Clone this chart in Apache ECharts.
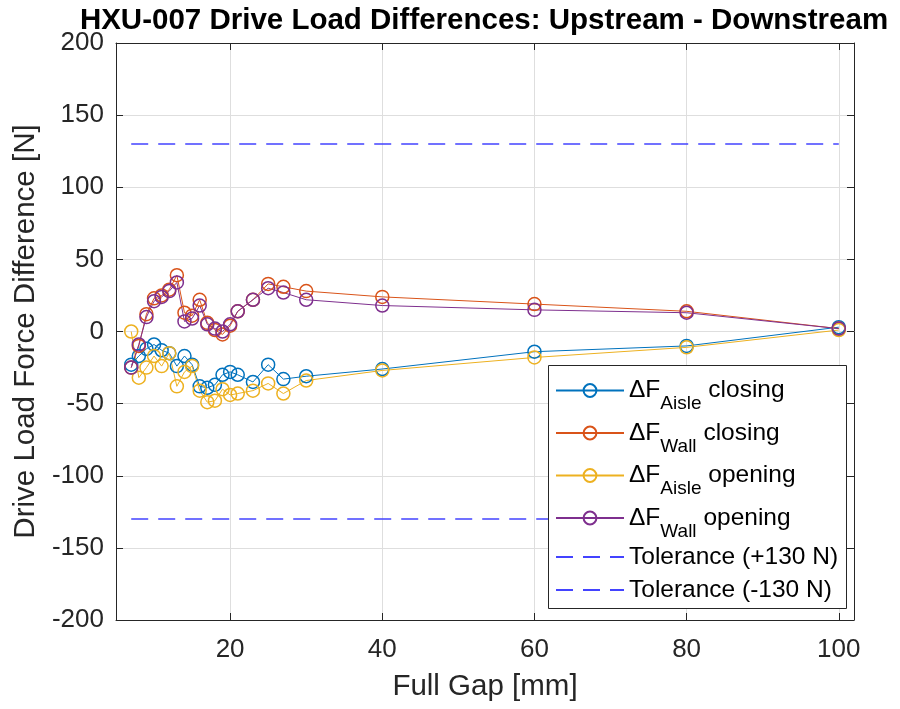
<!DOCTYPE html>
<html>
<head>
<meta charset="utf-8">
<script src="https://cdn.jsdelivr.net/npm/echarts@6/dist/echarts.min.js"></script>
<style>html,body{margin:0;padding:0;background:#fff}#c{width:900px;height:709px}</style>
</head>
<body>
<div id="c"></div>
<script>
const gap = [7, 8, 9, 10, 11, 12, 13, 14, 15, 16, 17, 18, 19, 20, 21, 23, 25, 27, 30, 40, 60, 80, 100];
const aisleClosing = [-23, -17, -12, -9, -13, -15, -24, -17, -23, -38, -39, -37, -30, -28, -30, -35, -23, -33, -31, -26, -14, -10, 3];
const wallClosing = [-25, -10, 12, 23, 25, 29, 39, 13, 11, 22, 6, 1, -2, 4, 14, 22, 33, 31, 28, 24, 19, 14, 2];
const aisleOpening = [0, -32, -25, -17, -24, -15, -38, -28, -24, -41, -49, -48, -40, -44, -43, -41, -36, -43, -34, -27, -18, -11, 1];
const wallOpening = [-25, -9, 10, 21, 24, 28, 34, 7, 9, 18, 5, 2, 0, 5, 14, 22, 30, 27, 22, 18, 15, 13, 2];
const tolGap = [7, 100];
const tolUpper = [130, 130];
const tolLower = [-130, -130];
const xTicks = [20, 40, 60, 80, 100];
const seriesNames = ['ΔF_Aisle closing', 'ΔF_Wall closing', 'ΔF_Aisle opening', 'ΔF_Wall opening', 'Tolerance (+130 N)', 'Tolerance (-130 N)'];
const colors = ['#0072BD', '#D95319', '#EDB120', '#7E2F8E', '#4343ff', '#4343ff'];

const FONT = '"Liberation Sans", Arial, Helvetica, sans-serif';
const AX = '#262626';
const pairs = (xs, ys) => xs.map((x, i) => [x, ys[i]]);

function markerSeries(idx, ys) {
  return {
    name: seriesNames[idx], type: 'line', data: pairs(gap, ys),
    symbol: 'circle', symbolSize: 13,
    itemStyle: { color: 'rgba(255,255,255,0)', borderColor: colors[idx], borderWidth: 1.5 },
    lineStyle: { color: colors[idx], width: 1 },
    emphasis: { disabled: true }
  };
}
function tolSeries(idx, ys) {
  return {
    name: seriesNames[idx], type: 'line', data: pairs(tolGap, ys),
    symbol: 'none',
    itemStyle: { color: colors[idx] },
    lineStyle: { color: colors[idx], width: 1.5, type: [17, 10] },
    emphasis: { disabled: true }
  };
}
const legendText = {
  fontFamily: FONT, fontSize: 24.5, color: '#000',
  rich: {
    m: { fontFamily: FONT, fontSize: 24.5, color: '#000', lineHeight: 46 },
    s: { fontFamily: FONT, fontSize: 19, color: '#000', lineHeight: 20, verticalAlign: 'bottom' },
    t: { fontFamily: FONT, fontSize: 24.5, color: '#000' }
  }
};
function legendFmt(name) {
  const m = name.match(/^ΔF_(\w+) (.*)$/);
  if (m) return '{m|ΔF}{s|' + m[1] + '}{m| ' + m[2] + '}';
  return '{t|' + name + '}';
}

const chart = echarts.init(document.getElementById('c'));
chart.setOption({
  animation: false,
  textStyle: { fontFamily: FONT },
  title: {
    text: 'HXU-007 Drive Load Differences: Upstream - Downstream',
    left: 479, top: 1, textAlign: 'center',
    textStyle: { fontFamily: FONT, fontSize: 29.5, fontWeight: 'bold', color: '#000' }
  },
  grid: { left: 116, right: 46, top: 43, bottom: 89, containLabel: false },
  graphic: [{
    type: 'rect', zlevel: 1, z: 0, silent: true,
    shape: { x: 548.5, y: 365.5, width: 298, height: 243 },
    style: { fill: '#fff', stroke: AX, lineWidth: 1 }
  }],
  legend: [{
    orient: 'vertical', left: 555, top: 378, zlevel: 1, z: 5,
    padding: 0, itemGap: 7,
    itemWidth: 68, itemHeight: 16,
    data: seriesNames.slice(0, 4),
    formatter: legendFmt,
    textStyle: legendText
  }, {
    orient: 'vertical', left: 555, top: 544.5, zlevel: 1, z: 5,
    padding: 0, itemGap: 8,
    itemWidth: 68, itemHeight: 16,
    data: seriesNames.slice(4).map(n => ({ name: n, itemStyle: { opacity: 0 } })),
    formatter: legendFmt,
    textStyle: legendText
  }],
  xAxis: [{
    type: 'value', min: 5, max: 102, position: 'bottom',
    name: 'Full Gap [mm]', nameLocation: 'middle', nameGap: 52,
    nameTextStyle: { fontFamily: FONT, fontSize: 29.5, color: AX },
    axisLine: { show: true, onZero: false, lineStyle: { color: AX, width: 1 } },
    axisTick: { show: true, inside: true, length: 7, lineStyle: { color: AX }, customValues: xTicks },
    axisLabel: { fontFamily: FONT, fontSize: 26, color: AX, margin: 17, customValues: xTicks },
    splitLine: { show: true, lineStyle: { color: '#dedede', width: 1 } }
  }, {
    type: 'value', min: 5, max: 102, position: 'top',
    axisLine: { show: true, onZero: false, lineStyle: { color: AX, width: 1 } },
    axisTick: { show: true, inside: true, length: 7, lineStyle: { color: AX }, customValues: xTicks },
    axisLabel: { show: false },
    splitLine: { show: false }
  }],
  yAxis: [{
    type: 'value', min: -200, max: 200, interval: 50, position: 'left',
    name: 'Drive Load Force Difference [N]', nameLocation: 'middle', nameGap: 71,
    nameTextStyle: { fontFamily: FONT, fontSize: 29.5, color: AX },
    axisLine: { show: true, onZero: false, lineStyle: { color: AX, width: 1 } },
    axisTick: { show: true, inside: true, length: 7, lineStyle: { color: AX } },
    axisLabel: { fontFamily: FONT, fontSize: 26, color: AX, margin: 12 },
    splitLine: { show: true, lineStyle: { color: '#dedede', width: 1 } }
  }, {
    type: 'value', min: -200, max: 200, interval: 50, position: 'right',
    axisLine: { show: true, onZero: false, lineStyle: { color: AX, width: 1 } },
    axisTick: { show: true, inside: true, length: 7, lineStyle: { color: AX } },
    axisLabel: { show: false },
    splitLine: { show: false }
  }],
  series: [
    markerSeries(0, aisleClosing),
    markerSeries(1, wallClosing),
    markerSeries(2, aisleOpening),
    markerSeries(3, wallOpening),
    tolSeries(4, tolUpper),
    tolSeries(5, tolLower)
  ]
});
</script>
</body>
</html>
